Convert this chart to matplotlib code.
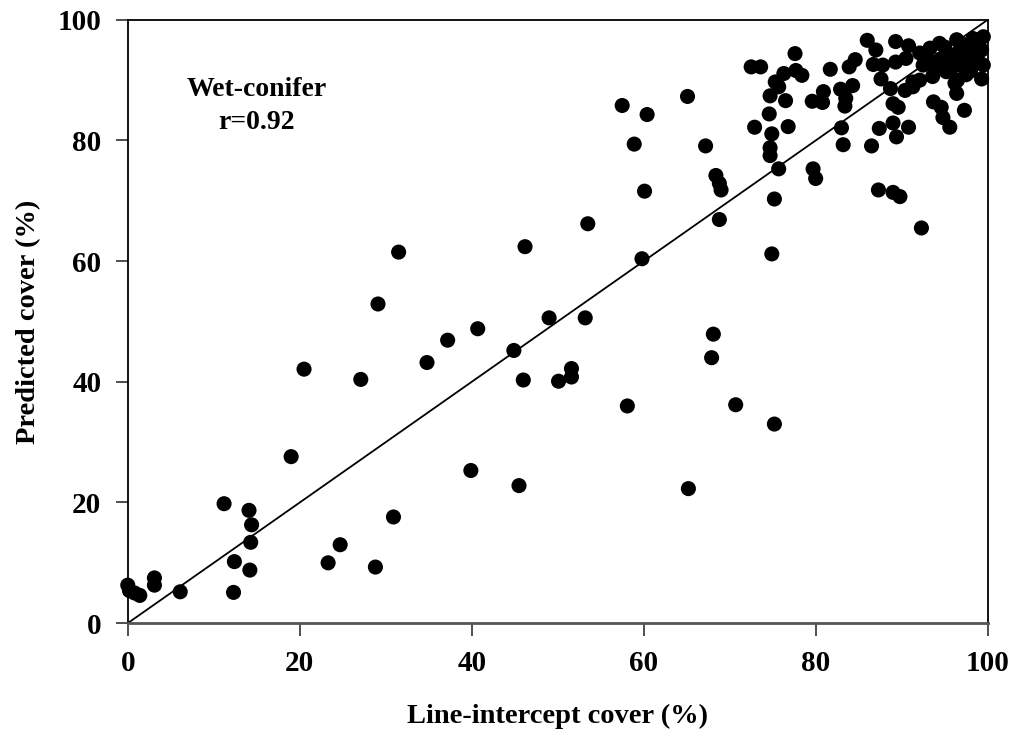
import matplotlib
matplotlib.use("Agg")
from matplotlib import pyplot as plt
import numpy as np

# line-intercept cover (%) vs predicted cover (%)
line_cover = [0.0, 0.2, 0.8, 1.4, 3.1, 3.1, 6.1, 12.3, 12.4, 14.2, 14.3, 14.4, 14.1, 11.2,
              19.0, 20.5, 27.1, 29.1, 31.5, 34.8, 37.2, 40.7, 44.9, 49.0, 53.2, 46.0, 50.1,
              51.6, 51.6, 58.1, 68.1, 67.9, 70.7, 75.2, 39.9, 45.5, 65.2, 23.3, 24.7, 28.8, 30.9,
              57.5, 60.4, 65.1, 58.9, 67.2, 60.1, 53.5, 46.2, 59.8, 68.4, 68.8, 69.0, 68.8,
              75.7, 75.2, 74.9, 72.5, 73.6, 77.6, 76.3, 77.7, 78.4, 75.3, 75.7, 74.7, 76.5,
              74.6, 72.9, 74.9, 76.8, 74.7, 74.7, 79.7, 80.0, 87.3, 89.0, 89.8, 92.3,
              81.7, 80.9, 79.6, 80.8, 82.9, 84.3, 83.5, 83.4, 83.0, 83.2, 87.4, 86.5, 89.0,
              89.4, 90.8, 87.6, 93.7, 94.6, 94.8, 95.6, 97.3, 96.4, 96.2, 99.3, 90.4, 91.3,
              88.7, 89.0, 89.6, 86.0, 87.0, 89.3, 90.8, 84.6, 86.7, 87.8, 89.3, 90.5, 83.9,
              92.1, 93.3, 94.4, 96.4, 98.3, 99.5, 95.2, 93.6, 96.5, 97.5, 92.1, 91.3,
              92.5, 93.5, 94.5, 95.5, 96.5, 97.5, 98.5, 99.3, 98.8, 97.8, 96.8, 95.8, 94.8,
              93.8, 99.5, 98.0, 97.0, 95.0, 99.0, 92.8]
pred_cover = [6.3, 5.4, 5.0, 4.6, 7.5, 6.3, 5.2, 5.1, 10.2, 8.8, 13.4, 16.3, 18.7, 19.8,
              27.6, 42.1, 40.4, 52.9, 61.5, 43.2, 46.9, 48.8, 45.2, 50.6, 50.6, 40.3, 40.1,
              42.2, 40.8, 36.0, 47.9, 44.0, 36.2, 33.0, 25.3, 22.8, 22.3, 10.0, 13.0, 9.3, 17.6,
              85.8, 84.3, 87.3, 79.4, 79.1, 71.6, 66.2, 62.4, 60.4, 74.2, 72.9, 71.8, 66.9,
              75.3, 70.3, 61.2, 92.2, 92.2, 94.4, 91.1, 91.6, 90.8, 89.7, 88.9, 87.4, 86.6,
              84.4, 82.2, 81.1, 82.3, 78.8, 77.5, 75.3, 73.7, 71.8, 71.4, 70.7, 65.5,
              91.8, 88.1, 86.5, 86.3, 88.5, 89.1, 87.0, 85.7, 82.1, 79.3, 82.0, 79.1, 82.9,
              80.6, 82.2, 90.2, 86.4, 85.5, 83.8, 82.2, 85.0, 87.8, 89.5, 90.2, 88.3, 88.9,
              88.6, 86.1, 85.5, 96.6, 95.0, 96.4, 95.7, 93.4, 92.6, 92.5, 93.0, 93.6, 92.2,
              94.5, 95.3, 96.1, 96.7, 96.9, 97.2, 91.4, 90.6, 90.0, 90.9, 90.0, 89.7,
              92.5, 93.0, 93.5, 94.0, 94.5, 95.0, 95.5, 95.0, 93.5, 93.0, 92.5, 92.0, 92.5,
              92.0, 92.5, 91.5, 96.0, 95.5, 96.5, 93.8]
ticks = [0, 20, 40, 60, 80, 100]

plt.rcParams['font.family'] = ['Liberation Serif', 'DejaVu Serif']
plt.rcParams['font.weight'] = 'bold'

fig = plt.figure(figsize=(10.14, 7.34), dpi=100)
ax = fig.add_axes([0.126, 0.151, 0.848, 0.822])

ax.plot([0, 100], [0, 100], color='black', lw=1.3, zorder=2)
ax.scatter(line_cover, pred_cover, s=118, color='black', edgecolors='none', zorder=3, clip_on=False)

ax.set_xlim(0, 100)
ax.set_ylim(0, 100)
ax.set_xticks(ticks)
ax.set_yticks(ticks)
ax.tick_params(axis='both', direction='out', length=9, width=1.3, color='#404040',
               labelsize=21, pad=10)
for lab in ax.get_xticklabels() + ax.get_yticklabels():
    lab.set_fontweight('bold')

for side in ['top', 'right', 'left']:
    ax.spines[side].set_color('black')
    ax.spines[side].set_linewidth(1.3)
ax.spines['bottom'].set_color('#555555')
ax.spines['bottom'].set_linewidth(2)

ax.set_xlabel('Line-intercept cover (%)', fontsize=20.5, fontweight='bold', labelpad=20)
ax.set_ylabel('Predicted cover (%)', fontsize=20.5, fontweight='bold', labelpad=12)

ax.text(15, 88.4, 'Wet-conifer', ha='center', va='center', fontsize=20, fontweight='bold')
ax.text(15, 82.9, 'r=0.92', ha='center', va='center', fontsize=20, fontweight='bold')

fig.savefig('out.png', dpi=100)
